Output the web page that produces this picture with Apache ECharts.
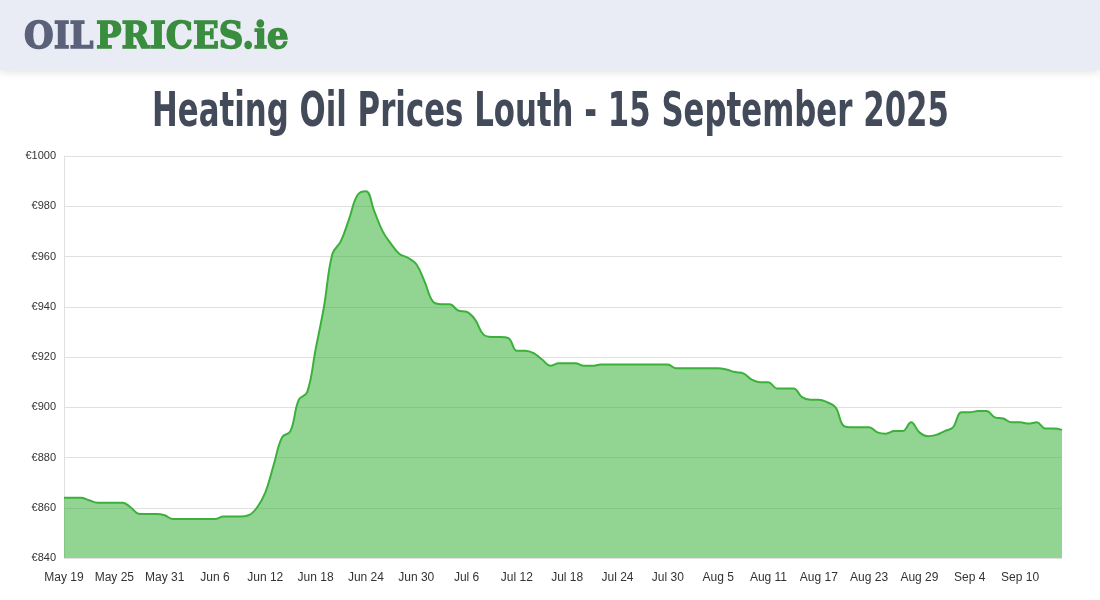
<!DOCTYPE html>
<html><head><meta charset="utf-8">
<script src="https://cdn.jsdelivr.net/npm/echarts@6/dist/echarts.min.js"></script>
<style>html,body{margin:0;padding:0;background:#fff}#c{width:1100px;height:600px}</style>
</head><body><div id="c"></div>
<script>
const monthNames = ['Jan','Feb','Mar','Apr','May','Jun','Jul','Aug','Sep','Oct','Nov','Dec'];
const startDate = [2025, 4, 19]; // May 19
const pricesMay = [864,864,864,863,862,862,862,862,860,857.5,857.5,857.5,857];
const pricesJun = [855.5,855.5,855.5,855.5,855.5,855.5,856.5,856.5,856.5,857,860,866,877,888,890.5,903,906,923,940,961,966,975,984.5,986,978,970,965,961,959.5,957];
const pricesJul = [950,942,941,941,938.5,938,935,929,928,928,927.5,922.5,922.5,921.5,919,916.5,917.5,917.5,917.5,916.5,916.5,917,917,917,917,917,917,917,917,917,915.5];
const pricesAug = [915.5,915.5,915.5,915.5,915.5,915,914,913.5,911,910,910,907.5,907.5,907.5,904,903,903,902,900,892.5,892,892,892,890,889.5,890.5,890.5,894,890,888.5,889];
const pricesSep = [890.5,892,898,898,898.5,898.5,896,895.5,894,894,893.5,894,891.5,891.5,891];
const prices = [...pricesMay, ...pricesJun, ...pricesJul, ...pricesAug, ...pricesSep];
const categories = [];
for (let i = 0; i < prices.length; i++) {
  const d = new Date(Date.UTC(startDate[0], startDate[1], startDate[2] + i));
  categories.push(monthNames[d.getUTCMonth()] + ' ' + d.getUTCDate());
}
const yTicks = {min: 840, max: 1000, step: 20};

const chart = echarts.init(document.getElementById('c'));
chart.setOption({
  animation: false,
  graphic: [
    {type:'rect', left:0, top:0, shape:{width:1100, height:70}, style:{fill:'#e9ecf4', shadowBlur:8, shadowColor:'rgba(0,0,0,0.12)', shadowOffsetY:2}, z:-1},
    {type:'text', x:24, y:20, scaleX:0.92, style:{text:'OIL', font:'bold 37px "DejaVu Serif"', fill:'#5a6178', stroke:'#5a6178', lineWidth:1.5}},
    {type:'text', x:96, y:20, scaleX:0.92, style:{text:'PRICES.ie', font:'bold 37px "DejaVu Serif"', fill:'#3a8c3f', stroke:'#3a8c3f', lineWidth:1.5}},
    {type:'text', x:152, y:90, scaleX:0.642, style:{text:'Heating Oil Prices Louth - 15 September 2025', font:'bold 48px "DejaVu Sans"', fill:'#434a59'}}
  ],
  grid: {left:64, right:38, top:156, bottom:42},
  xAxis: {type:'category', boundaryGap:false, data:categories,
    axisLine:{show:false}, axisTick:{show:false},
    axisLabel:{interval:5, margin:14, color:'#333', fontSize:12, fontFamily:'Arial, "Liberation Sans"'}},
  yAxis: {type:'value', min:yTicks.min, max:yTicks.max, interval:yTicks.step,
    axisLabel:{formatter:v=>'€'+v, color:'#333', fontSize:11, fontFamily:'Arial, "Liberation Sans"'},
    splitLine:{lineStyle:{color:'#e0e0e0'}},
    axisLine:{show:true, lineStyle:{color:'#e0e0e0'}}},
  series: [{type:'line', data:prices, smooth:0.4, symbol:'none',
    lineStyle:{color:'#3bb03b', width:2},
    areaStyle:{color:'rgba(60,180,60,0.56)', opacity:1}}]
});
</script></body></html>
